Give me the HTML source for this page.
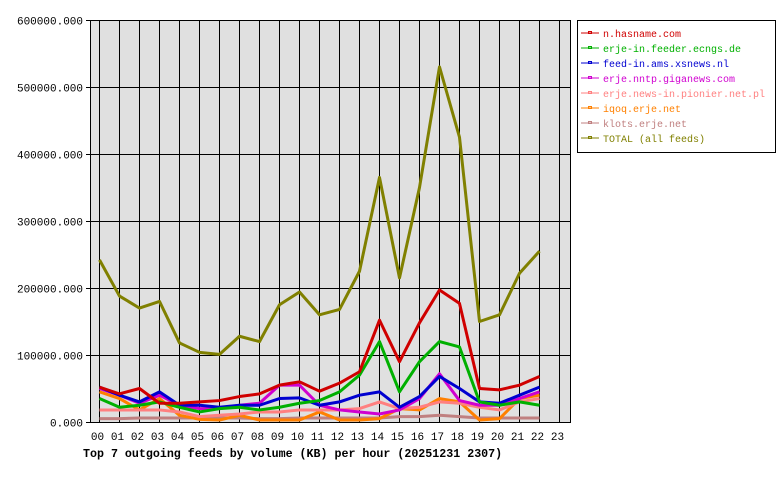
<!DOCTYPE html>
<html><head><meta charset="utf-8"><style>body{margin:0;background:#fff}</style></head><body>
<svg id="s" width="780" height="480" xmlns="http://www.w3.org/2000/svg" font-family="Liberation Mono, DejaVu Sans Mono, monospace" font-size="11">
<rect x="90" y="20" width="480" height="402" fill="#e0e0e0"/>
<g id="grid" stroke="#000" stroke-width="1"></g>
<g id="labels"></g>
<g id="series" fill="none" stroke-width="3" stroke-linejoin="round"></g>
<rect x="90.5" y="20.5" width="480" height="402" fill="none" stroke="#000"/>
<text x="83" y="457" font-weight="bold" font-size="11.65">Top 7 outgoing feeds by volume (KB) per hour (20251231 2307)</text>
<rect x="577.5" y="20.5" width="198" height="132" fill="#fff" stroke="#000"/>
<g id="legend" font-size="10"></g>
</svg>
<script>
const ns="http://www.w3.org/2000/svg";
function el(p,t,a,txt){const e=document.createElementNS(ns,t);for(const k in a)e.setAttribute(k,a[k]);if(txt!=null)e.textContent=txt;document.getElementById(p).appendChild(e);return e;}
const X=h=>99.5+20*h, Y=v=>422-v*402/600;
for(let h=0;h<24;h++){el('grid','line',{x1:X(h),x2:X(h),y1:20,y2:422});el('labels','text',{x:X(h)-2,y:440,'text-anchor':'middle'},(h<10?'0':'')+h);}
for(let i=0;i<=6;i++){const y=Math.round(Y(i*100))+0.5;el('grid','line',{x1:86,x2:570,y1:y,y2:y});el('labels','text',{x:83,y:y+4,'text-anchor':'end'},(i*100000)+'.000');}
const S=[
["klots.erje.net","#c08080",[5,5,6,6,6,6,6,6,5,5,6,6,6,6,6,8,8,10,8,6,6,6,6]],
["iqoq.erje.net","#ff8000",[45,35,18,35,10,4,3,10,3,3,3,15,3,3,5,20,18,35,30,3,5,35,40]],
["erje.news-in.pionier.net.pl","#ff8080",[18,18,18,18,15,8,10,12,15,15,18,18,18,20,30,20,22,30,28,22,18,30,35]],
["erje.nntp.giganews.com","#d000d0",[50,40,28,40,25,20,20,25,28,55,55,25,18,15,12,18,35,72,32,25,25,35,45]],
["feed-in.ams.xsnews.nl","#0000d0",[52,40,30,45,25,25,22,25,25,35,36,25,30,40,45,22,38,68,50,30,28,40,52]],
["erje-in.feeder.ecngs.de","#00b000",[35,22,25,30,22,15,20,22,18,22,28,32,45,70,120,45,90,120,112,30,25,30,25]],
["n.hasname.com","#d00000",[52,42,50,28,28,30,32,38,42,55,60,46,58,75,152,90,148,197,177,50,48,55,68]],
["TOTAL (all feeds)","#808000",[242,188,170,180,118,104,101,128,120,175,194,160,168,225,365,215,350,530,425,150,160,222,255]]];
S.forEach(s=>el('series','polyline',{stroke:s[1],points:s[2].map((v,i)=>X(i)+','+Y(v)).join(' ')}));
const order=[6,5,4,3,2,1,0,7];
order.forEach((k,i)=>{const s=S[k],y=33+i*15;el('legend','line',{x1:581,x2:599,y1:y,y2:y,stroke:s[1]});el('legend','rect',{x:588.5,y:y-1.5,width:3,height:2,fill:'none',stroke:s[1]});el('legend','text',{x:603,y:y+4,fill:s[1]},s[0]);});
</script>
</body></html>
